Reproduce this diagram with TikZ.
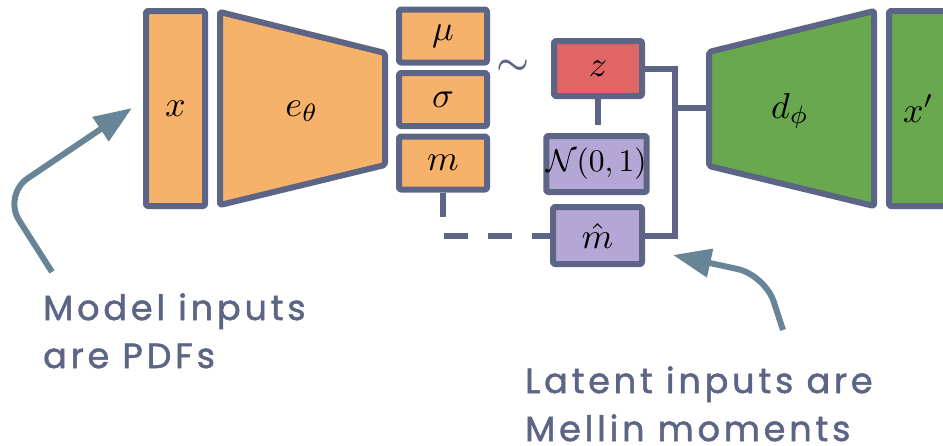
\documentclass[tikz,border=0pt]{standalone}
\usepackage{fontspec}
\newfontfamily\annot[LetterSpace=11, FakeBold=1.5]{Poppins}
\usetikzlibrary{arrows.meta}
\definecolor{slate}{HTML}{5C6585}
\definecolor{arrowc}{HTML}{688598}
\definecolor{orangef}{HTML}{F6B26B}
\definecolor{redf}{HTML}{E06666}
\definecolor{purplef}{HTML}{B4A7D6}
\definecolor{greenf}{HTML}{6AA84F}
\newcommand{\mylabel}[1]{\scalebox{3.6}{$#1$}}
\tikzset{
  blockbox/.style={draw=slate, line width=6pt, rounded corners=2pt, line join=round, inner sep=0pt},
  orangebox/.style={blockbox, fill=orangef},
  redbox/.style={blockbox, fill=redf},
  purplebox/.style={blockbox, fill=purplef},
  greenbox/.style={blockbox, fill=greenf},
  wire/.style={draw=slate, line width=6pt, line join=miter},
  dashwire/.style={wire, dash pattern=on 24pt off 20pt},
  note/.style={arrowc, line width=6pt, -{Triangle[length=38pt,width=28pt]}},
  notetext/.style={text=slate, font=\annot\fontsize{35}{48}\selectfont, align=left, inner sep=0pt, anchor=base west},
  mathlabel/.style={inner sep=0pt}
}
\begin{document}
\begin{tikzpicture}[x=1pt,y=-1pt]
\useasboundingbox (0,0) rectangle (943,445);
% input
\node[orangebox, minimum width=59pt, minimum height=195pt] (x) at (175.5,108.5) {\mylabel{x}};
% encoder
\draw[blockbox, fill=orangef] (220,12) -- (385,53) -- (385,165) -- (220,205) -- cycle;
\node[mathlabel] (enc) at (302,111) {\mylabel{e_\theta}};
% latent outputs
\node[orangebox, minimum width=88pt, minimum height=53pt] (mu) at (443,36) {\mylabel{\mu}};
\node[orangebox, minimum width=88pt, minimum height=53pt] (sigma) at (443,99.5) {\mylabel{\sigma}};
\node[orangebox, minimum width=88pt, minimum height=53pt] (m) at (443,163) {\mylabel{m}};
\node[text=slate, inner sep=0pt] (tilde) at (513,67) {\scalebox{3.7}{\boldmath$\sim$}};
% sampled
\node[redbox, minimum width=88pt, minimum height=55pt] (z) at (598,68.5) {\mylabel{z}};
\node[purplebox, minimum width=89pt, minimum height=56pt] (normal) at (596.5,164) {\scalebox{3.15}{$\mathcal{N}(0,1)$}};
\node[purplebox, minimum width=89pt, minimum height=57pt] (mhat) at (597.5,235.5) {\mylabel{\hat{m}}};
% decoder
\draw[blockbox, fill=greenf] (709,52) -- (874,11) -- (874,206) -- (709,166) -- cycle;
\coordinate (decin) at (709,108);
\node[mathlabel] (dec) at (790,111) {\mylabel{d_\phi}};
\node[greenbox, minimum width=59pt, minimum height=195pt] (xp) at (918.5,108.5) {\mylabel{x'}};
% connectors
\coordinate (join) at (675,108);
\draw[wire] (z.east) -| (join) |- (mhat.east);
\draw[wire] (join) -- (decin);
\draw[wire] (z.south) -- ++(0,26) coordinate (zstem);
\draw[dashwire] (m.south) |- (mhat.west);
% annotations
\coordinate (a1start) at (52,272);
\coordinate (a2start) at (783,330);
\draw[note, rounded corners=30pt] (a1start) -- (3,195) -- (132,108);
\draw[note, rounded corners=28pt] (a2start) -- (765,275) -- (673,255);
\node[notetext] (t1) at (43,368) {Model inputs\\are PDFs};
\node[notetext] (t2) at (525,441) {Latent inputs are\\Mellin moments};
\end{tikzpicture}
\end{document}
